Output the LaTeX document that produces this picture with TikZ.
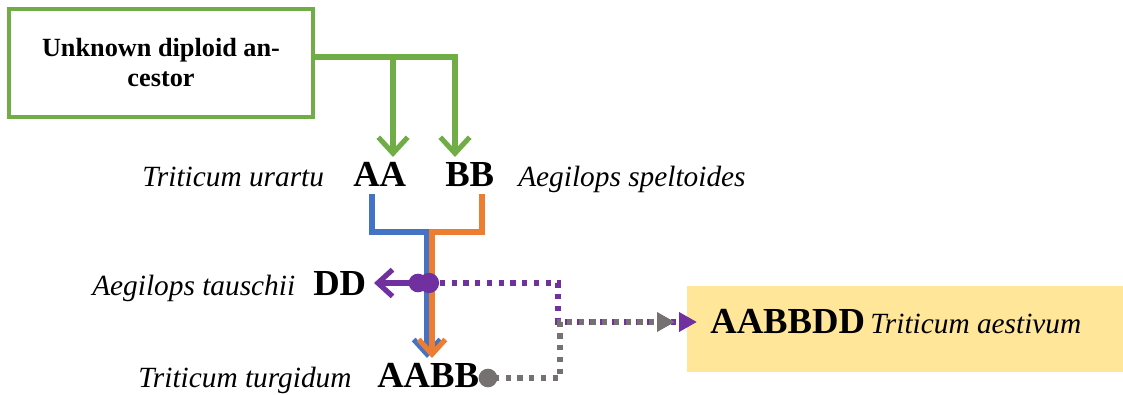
\documentclass[tikz,border=0pt]{standalone}
\usepackage{fontspec}
\setmainfont{Liberation Serif}
\usetikzlibrary{arrows.meta}
\definecolor{ancgreen}{HTML}{70AD47}
\definecolor{lineblue}{HTML}{4472C4}
\definecolor{lineorange}{HTML}{ED7D31}
\definecolor{linepurple}{HTML}{7030A0}
\definecolor{linegray}{HTML}{767171}
\definecolor{hexafill}{HTML}{FFE699}
\tikzset{
  genome/.style={font=\fontsize{27.5}{30}\selectfont\bfseries, inner sep=0pt, anchor=base west},
  species/.style={font=\fontsize{22}{26}\selectfont\itshape, inner sep=0pt, anchor=base west},
  ancbox/.style={draw=ancgreen, line width=3.4pt, minimum width=228pt, minimum height=81pt,
    align=center, font=\fontsize{19.7}{22.5}\selectfont\bfseries, inner sep=0pt},
  greenline/.style={draw=ancgreen, line width=3.8pt, -{Straight Barb[length=12pt,width=22pt]}},
  parentline/.style={line width=3.9pt, -{Straight Barb[length=11pt,width=20pt]}},
  dotline/.style={line width=3.9pt, dash pattern=on 3.9pt off 4.9pt, -{Triangle[length=13.5pt,width=14pt]}},
}
\begin{document}
\begin{tikzpicture}[x=0.75pt, y=-0.75pt]
\useasboundingbox (0,0) rectangle (1123,395);

% boxes
\node[ancbox] (anc) at (161,63) {Unknown diploid an-\\cestor};
\node[fill=hexafill, minimum width=327pt, minimum height=64.5pt, inner sep=0pt, anchor=north west] (hexa) at (687,286) {};

% genomes and species names
\node[species] (urartu) at (142,187) {Triticum urartu};
\node[genome] (AA) at (353,187) {AA};
\node[genome] (BB) at (445,187) {BB};
\node[species] (spelt) at (518,187) {Aegilops speltoides};
\node[species] (tausch) at (92,295) {Aegilops tauschii};
\node[genome] (DD) at (313,295) {DD};
\node[species] (turg) at (138,387) {Triticum turgidum};
\node[genome] (AABB) at (377,387) {AABB};
\node[genome] (AABBDD) at (710,333) {AABBDD};
\node[species] (aest) at (870,333) {Triticum aestivum};

% connector points
\coordinate (gsplit) at (393,57);
\coordinate (gA) at (393,157);
\coordinate (gB) at (455,157);
\coordinate (aTop) at (372,194);
\coordinate (bTop) at (482,194);
\coordinate (aTip) at (427,358);
\coordinate (bTip) at (432,358);
\coordinate (merge) at (424,283);
\coordinate (ddTip) at (374,283);
\coordinate (aabbDot) at (488,378);
\coordinate (pTip) at (697,322);
\coordinate (gTip) at (675,322);

% ancestor to the two diploids
\draw[greenline] (anc.east |- gsplit) -| (gB);
\draw[greenline] (gsplit) -- (gA);

% AA and BB hybridise into AABB
\draw[parentline, draw=lineblue] (aTop) |- (427,232) -- (aTip);
\draw[parentline, draw=lineorange] (bTop) |- (432,232) -- (bTip);

% DD contribution
\draw[parentline, draw=linepurple] (merge) -- (ddTip);
\fill[linepurple] (418,283) circle (7pt) (429,283) circle (7.6pt);
\draw[dotline, draw=linepurple] (440,283) -| (558,322) -- (pTip);

% AABB contribution
\draw[dotline, draw=linegray, dash phase=4.4pt] (aabbDot) -| (560,322) -- (gTip);
\fill[linegray] (aabbDot) circle (7pt);
\end{tikzpicture}
\end{document}
